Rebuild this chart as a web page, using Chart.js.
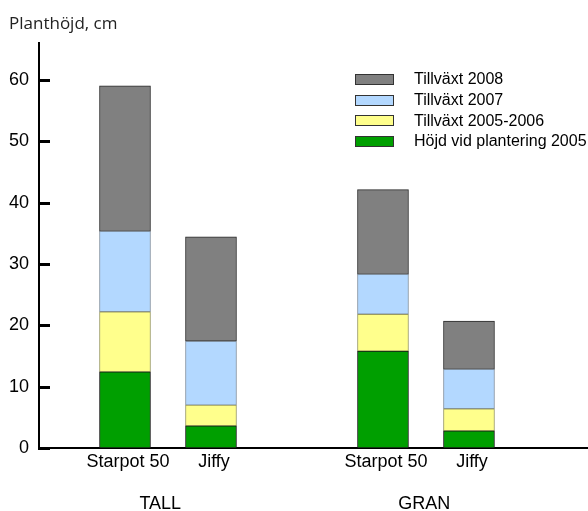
<!DOCTYPE html>
<html>
<head>
<meta charset="utf-8">
<script src="https://cdn.jsdelivr.net/npm/chart.js@4/dist/chart.umd.min.js"></script>
<style>
  html, body { margin: 0; padding: 0; background: #fff; }
  #wrap { position: relative; width: 588px; height: 511px; }
  #title { position: absolute; left: 9px; top: 14px; font: 17px/17px "Open Sans", sans-serif; color: #222; white-space: nowrap; }
  #legend { position: absolute; left: 355px; top: 69px; font: 16px "Liberation Sans", Arial, sans-serif; color: #000; }
  .row { display: flex; align-items: center; height: 20.7px; white-space: nowrap; }
  .box { width: 37px; height: 9px; border: 1px solid #333; margin-right: 20px; }
</style>
</head>
<body>
<div id="wrap">
  <canvas id="c" width="588" height="511"></canvas>
  <div id="title">Planthöjd, cm</div>
  <div id="legend"></div>
</div>
<script>
// ---- data ----
const categories = ['Starpot 50', 'Jiffy', 'Starpot 50', 'Jiffy'];
const barPositions = [1, 2, 4, 5];
const groups = ['TALL', 'GRAN'];
const groupPositions = [1.41, 4.48];
const seriesNames = ['Höjd vid plantering 2005', 'Tillväxt 2005-2006', 'Tillväxt 2007', 'Tillväxt 2008'];
const hojd2005 = [12.4, 3.6, 15.8, 2.8];
const tillvaxt0506 = [9.8, 3.4, 6.0, 3.6];
const tillvaxt2007 = [13.1, 10.4, 6.5, 6.4];
const tillvaxt2008 = [23.7, 17.0, 13.8, 7.9];
const yTicks = [0, 10, 20, 30, 40, 50, 60];

const seriesValues = [hojd2005, tillvaxt0506, tillvaxt2007, tillvaxt2008];
const fills = ['#009f00', '#ffff8c', '#b3d8ff', '#808080'];
const borders = ['#1a1a1a', '#9a9a60', '#8090a0', '#2a2a2a'];

const datasets = seriesNames.map((name, i) => ({
  label: name,
  data: seriesValues[i].map((v, j) => ({ x: barPositions[j], y: v })),
  backgroundColor: fills[i],
  borderColor: borders[i],
  borderWidth: 1,
  borderSkipped: false,
  barThickness: 51
}));

// HTML legend (top series first)
const legendEl = document.getElementById('legend');
for (let i = seriesNames.length - 1; i >= 0; i--) {
  const row = document.createElement('div');
  row.className = 'row';
  const box = document.createElement('div');
  box.className = 'box';
  box.style.background = fills[i];
  const txt = document.createElement('span');
  txt.textContent = seriesNames[i];
  row.appendChild(box); row.appendChild(txt);
  legendEl.appendChild(row);
}

const inwardTicks = {
  id: 'inwardTicks',
  afterDraw(chart) {
    const y = chart.scales.y, ctx = chart.ctx, left = chart.chartArea.left;
    ctx.save();
    ctx.fillStyle = '#000';
    yTicks.forEach(v => {
      const py = Math.round(y.getPixelForValue(v));
      ctx.fillRect(left - 1, py - 1, 12, 3);
    });
    ctx.restore();
  }
};

const font18 = { family: '"Liberation Sans", Arial, sans-serif', size: 18 };

new Chart(document.getElementById('c'), {
  type: 'bar',
  data: { datasets },
  options: {
    responsive: false,
    animation: false,
    layout: { padding: { top: 43, right: 0, left: 0, bottom: 0 } },
    plugins: { legend: { display: false }, title: { display: false }, tooltip: { enabled: false } },
    scales: {
      x: {
        type: 'linear', stacked: true, min: 0, max: 6.384, offset: false,
        grid: { display: false, drawTicks: false },
        border: { display: true, color: '#000', width: 2 },
        afterBuildTicks: s => { s.ticks = barPositions.map(v => ({ value: v })); },
        afterFit: s => { s.height = 30; },
        ticks: { color: '#000', font: font18, padding: 3, labelOffset: 3, maxRotation: 0, autoSkip: false,
          callback: (v, i) => categories[i] }
      },
      x2: {
        type: 'linear', position: 'bottom', min: 0, max: 6.384, offset: false,
        grid: { display: false, drawTicks: false },
        border: { display: false },
        afterBuildTicks: s => { s.ticks = groupPositions.map(v => ({ value: v })); },
        afterFit: s => { s.height = 33; },
        ticks: { color: '#000', font: font18, padding: 15, maxRotation: 0, autoSkip: false,
          callback: (v, i) => groups[i] }
      },
      y: {
        stacked: true, min: 0, max: 66,
        grid: { display: false, drawTicks: false },
        border: { display: true, color: '#000', width: 2 },
        afterBuildTicks: s => { s.ticks = yTicks.map(v => ({ value: v })); },
        afterFit: s => { s.width = 39; },
        ticks: { color: '#000', font: font18, padding: 10 }
      }
    }
  },
  plugins: [inwardTicks]
});
</script>
</body>
</html>
